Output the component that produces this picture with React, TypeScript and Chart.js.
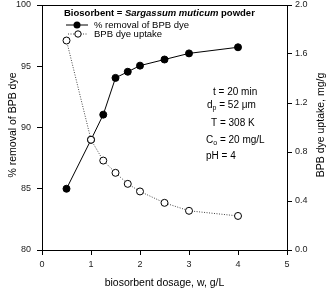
import React, { useEffect, useRef } from "react";
import { Chart, registerables } from "chart.js";

Chart.register(...registerables);

// Biosorbent dosage (g/L)
const dosage = [0.5, 1, 1.25, 1.5, 1.75, 2, 2.5, 3, 4];
// % removal of BPB dye (left axis)
const removal = [85, 89, 91.05, 94.05, 94.55, 95.05, 95.55, 96.05, 96.55];
// BPB dye uptake, mg/g (right axis)
const uptake = [1.71, 0.9, 0.73, 0.63, 0.54, 0.478, 0.385, 0.32, 0.278];

const xTicks = [0, 1, 2, 3, 4, 5];
const leftTicks = [80, 85, 90, 95, 100];
const rightTicks = [0, 0.4, 0.8, 1.2, 1.6, 2.0];

const FONT = "'Liberation Sans', Arial, sans-serif";

const overlay = {
  id: "overlay",
  afterDraw(chart: any) {
    const { ctx, chartArea: a } = chart;
    ctx.save();
    // frame
    ctx.strokeStyle = "#000";
    ctx.lineWidth = 1;
    ctx.strokeRect(Math.round(a.left) + 0.5, Math.round(a.top) + 0.5, Math.round(a.right - a.left), Math.round(a.bottom - a.top));

    ctx.fillStyle = "#000";
    ctx.textBaseline = "middle";

    // legend heading
    let x = 64;
    const y0 = 13;
    ctx.textAlign = "left";
    ctx.font = `bold 9.5px ${FONT}`;
    ctx.fillText("Biosorbent = ", x, y0);
    x += ctx.measureText("Biosorbent = ").width;
    ctx.font = `italic bold 9.5px ${FONT}`;
    ctx.fillText("Sargassum muticum", x, y0);
    x += ctx.measureText("Sargassum muticum").width;
    ctx.font = `bold 9.5px ${FONT}`;
    ctx.fillText(" powder", x, y0);

    // legend entries
    ctx.font = `9.5px ${FONT}`;
    ctx.strokeStyle = "#000";
    ctx.beginPath();
    ctx.moveTo(66, 25);
    ctx.lineTo(88, 25);
    ctx.stroke();
    ctx.beginPath();
    ctx.arc(77, 25, 3.5, 0, Math.PI * 2);
    ctx.fill();
    ctx.fillText("% removal of BPB dye", 94, 25.5);

    ctx.strokeStyle = "#444";
    ctx.setLineDash([1, 1.5]);
    ctx.beginPath();
    ctx.moveTo(68, 34);
    ctx.lineTo(88, 34);
    ctx.stroke();
    ctx.setLineDash([]);
    ctx.strokeStyle = "#000";
    ctx.fillStyle = "#fff";
    ctx.beginPath();
    ctx.arc(78, 34, 3.2, 0, Math.PI * 2);
    ctx.fill();
    ctx.stroke();
    ctx.fillStyle = "#000";
    ctx.fillText("BPB dye uptake", 94, 34.5);

    // conditions
    ctx.font = `10px ${FONT}`;
    const sub = (base: string, s: string, rest: string, px: number, py: number) => {
      ctx.font = `10px ${FONT}`;
      ctx.fillText(base, px, py);
      let cx = px + ctx.measureText(base).width;
      ctx.font = `7px ${FONT}`;
      ctx.fillText(s, cx, py + 3);
      cx += ctx.measureText(s).width;
      ctx.font = `10px ${FONT}`;
      ctx.fillText(rest, cx, py);
    };
    ctx.fillText("t = 20 min", 213, 92);
    sub("d", "p", " = 52 \u03bcm", 207, 105);
    ctx.fillText("T = 308 K", 211, 123);
    sub("C", "o", " = 20 mg/L", 206, 140);
    ctx.fillText("pH = 4", 206, 156);

    // axis titles
    ctx.font = `10.5px ${FONT}`;
    ctx.textAlign = "center";
    ctx.fillText("biosorbent dosage, w, g/L", (a.left + a.right) / 2, 283);

    ctx.save();
    ctx.translate(13, 125);
    ctx.rotate(-Math.PI / 2);
    ctx.fillText("% removal of BPB dye", 0, 0);
    ctx.restore();

    ctx.save();
    ctx.translate(321, 125);
    ctx.rotate(-Math.PI / 2);
    ctx.fillText("BPB dye uptake, mg/g", 0, 0);
    ctx.restore();

    ctx.restore();
  },
};

const noPad = (s: any) => {
  s.paddingTop = 0;
  s.paddingBottom = 0;
  s.paddingLeft = 0;
  s.paddingRight = 0;
};

export default function App() {
  const ref = useRef<HTMLCanvasElement>(null);

  useEffect(() => {
    if (!ref.current) return;
    const tickFont = { family: FONT, size: 9 };
    const chart = new Chart(ref.current, {
      type: "line",
      data: {
        datasets: [
          {
            label: "% removal of BPB dye",
            data: dosage.map((d, i) => ({ x: d, y: removal[i] })),
            yAxisID: "y",
            borderColor: "#000",
            borderWidth: 1,
            backgroundColor: "#000",
            pointBackgroundColor: "#000",
            pointBorderColor: "#000",
            pointRadius: 3.5,
            pointBorderWidth: 1,
            tension: 0,
            order: 1,
          },
          {
            label: "BPB dye uptake",
            data: dosage.map((d, i) => ({ x: d, y: uptake[i] })),
            yAxisID: "y1",
            borderColor: "#444",
            borderWidth: 1,
            borderDash: [1, 1.5],
            pointBackgroundColor: "#fff",
            pointBorderColor: "#000",
            pointRadius: 3.5,
            pointBorderWidth: 1,
            tension: 0,
            order: 0,
          },
        ],
      },
      options: {
        animation: false,
        responsive: false,
        maintainAspectRatio: false,
        layout: { padding: { top: 4, left: 0, right: 0, bottom: 0 } },
        plugins: { legend: { display: false }, tooltip: { enabled: false } },
        scales: {
          x: {
            type: "linear",
            min: 0,
            max: 5,
            afterBuildTicks: (s: any) => { s.ticks = xTicks.map((v) => ({ value: v })); },
            afterFit: (s: any) => { s.height = 42; noPad(s); },
            grid: { drawOnChartArea: false, tickLength: 5, color: "#000" },
            border: { color: "#000" },
            ticks: { font: tickFont, color: "#222", padding: 4, maxRotation: 0 },
          },
          y: {
            position: "left",
            min: 80,
            max: 100,
            afterBuildTicks: (s: any) => { s.ticks = leftTicks.map((v) => ({ value: v })); },
            afterFit: (s: any) => { s.width = 42; noPad(s); },
            grid: { drawOnChartArea: false, tickLength: 5, color: "#000" },
            border: { color: "#000" },
            ticks: { font: tickFont, color: "#222", padding: 6 },
          },
          y1: {
            position: "right",
            min: 0,
            max: 2,
            afterBuildTicks: (s: any) => { s.ticks = rightTicks.map((v) => ({ value: v })); },
            afterFit: (s: any) => { s.width = 44; noPad(s); },
            grid: { drawOnChartArea: false, tickLength: 5, color: "#000" },
            border: { color: "#000" },
            ticks: { font: tickFont, color: "#222", padding: 3, callback: (v: any) => Number(v).toFixed(1) },
          },
        },
      },
      plugins: [overlay],
    });
    return () => chart.destroy();
  }, []);

  return (
    <div style={{ position: "fixed", left: 0, top: 0, width: 331, height: 292, background: "#fff" }}>
      <canvas ref={ref} width={331} height={292} style={{ width: 331, height: 292 }} />
    </div>
  );
}
